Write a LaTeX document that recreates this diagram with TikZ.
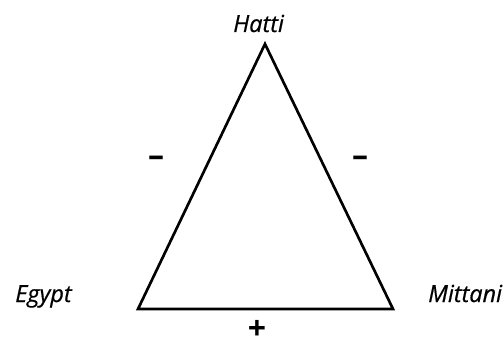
\documentclass[tikz,border=0pt]{standalone}
\usepackage{fontspec}
\setmainfont{Open Sans}[ItalicFeatures={FakeBold=0.6}]
\usetikzlibrary{positioning}

\tikzset{
  state/.style={font=\fontsize{17.6}{20}\selectfont\itshape, inner sep=0pt},
  sign/.style={font=\fontsize{24}{26}\selectfont\bfseries, inner sep=0pt, text height=1.5ex, text depth=0pt}
}

\begin{document}
\begin{tikzpicture}[x=0.75pt, y=-0.75pt]
  \useasboundingbox (0,0) rectangle (503,342);
  % Corners of the triangle
  \coordinate (hattiC) at (265,44);
  \coordinate (egyptC) at (138,309);
  \coordinate (mittaniC) at (393,309);
  \draw[line width=2pt, line join=miter] (egyptC) -- (hattiC) -- (mittaniC) -- cycle;
  % States
  \node[state, anchor=base west] (hatti) at (233,32) {Hatti};
  \node[state, anchor=base west] (egypt) at (15,302) {Egypt};
  \node[state, anchor=base west] (mittani) at (428,302) {Mittani};
  % Signs of the relations
  \node[sign] (hattiEgypt) at (156,161) {–};
  \node[sign] (hattiMittani) at (360,161) {–};
  \node[sign] (egyptMittani) at (257,334) {+};
\end{tikzpicture}
\end{document}
